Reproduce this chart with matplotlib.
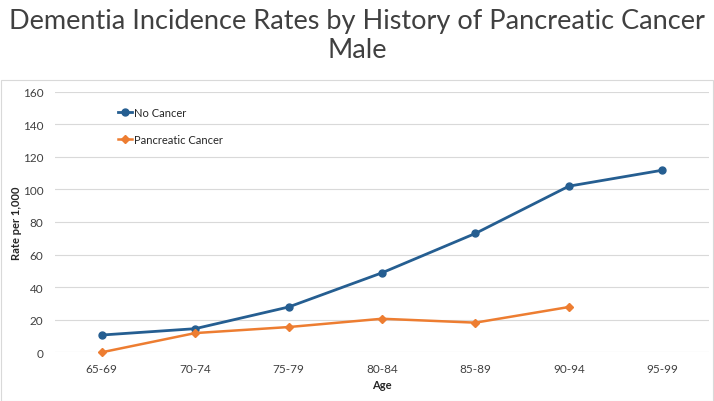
import matplotlib
matplotlib.use("Agg")
import matplotlib.pyplot as plt
from matplotlib.patches import Rectangle

categories = ["65-69", "70-74", "75-79", "80-84", "85-89", "90-94", "95-99"]
no_cancer = [10.6, 14.5, 27.8, 48.8, 73.0, 102.0, 111.8]
pancreatic = [0.0, 11.8, 15.5, 20.6, 18.2, 27.8]
yticks = [0, 20, 40, 60, 80, 100, 120, 140, 160]

plt.rcParams['font.family'] = ['Lato', 'DejaVu Sans']

W, H = 714, 402
fig = plt.figure(figsize=(W / 100, H / 100), dpi=100)
fig.patch.set_facecolor("white")

# chart area border
fig.patches.append(Rectangle((1 / W, 0.0), 1 - 2 / W, (402 - 81) / H, transform=fig.transFigure,
                             fill=False, edgecolor="#D9D9D9", linewidth=0.8))

fig.text(0.5, 1 - 22 / H, "Dementia Incidence Rates by History of Pancreatic Cancer",
         ha="center", va="center", fontsize=19.5, fontweight="normal", color="#404040")
fig.text(0.5, 1 - 50 / H, "Male", ha="center", va="center", fontsize=19.5,
         fontweight="normal", color="#404040")

ax = fig.add_axes([55 / W, (H - 353.3) / H, (709 - 55) / W, (353.3 - 92.7) / H])
x = list(range(len(categories)))
ax.plot(x, no_cancer, color="#255E91", linewidth=2.0, marker="o", markersize=5,
        label="No Cancer", clip_on=False)
ax.plot(x[:len(pancreatic)], pancreatic, color="#ED7D31", linewidth=1.8, marker="D",
        markersize=4, label="Pancreatic Cancer", clip_on=False)

ax.set_xlim(-0.5, len(categories) - 0.5)
ax.set_ylim(0, 160)
ax.set_yticks(yticks)
ax.set_xticks(x)
ax.set_xticklabels(categories)
ax.tick_params(axis="both", length=0, labelsize=8.5, colors="#404040", pad=8)
ax.tick_params(axis="y", pad=8.5)
ax.grid(axis="y", color="#D9D9D9", linewidth=0.8)
ax.set_axisbelow(True)
for s in ax.spines.values():
    s.set_visible(False)

ax.set_xlabel("Age", fontsize=8, fontweight="bold", color="#262626", labelpad=3)
ax.set_ylabel("Rate per 1,000", fontsize=8, fontweight="bold", color="#262626")
ax.yaxis.set_label_coords((22 - 55) / 654, 0.5)

leg = ax.legend(loc="upper left", bbox_to_anchor=(112 / W, 1 - 102 / H),
                bbox_transform=fig.transFigure, frameon=False, fontsize=8,
                handlelength=1.3, handletextpad=0.2, labelspacing=1.5, borderpad=0)
for t in leg.get_texts():
    t.set_color("#262626")

fig.savefig("out.png", dpi=100)
